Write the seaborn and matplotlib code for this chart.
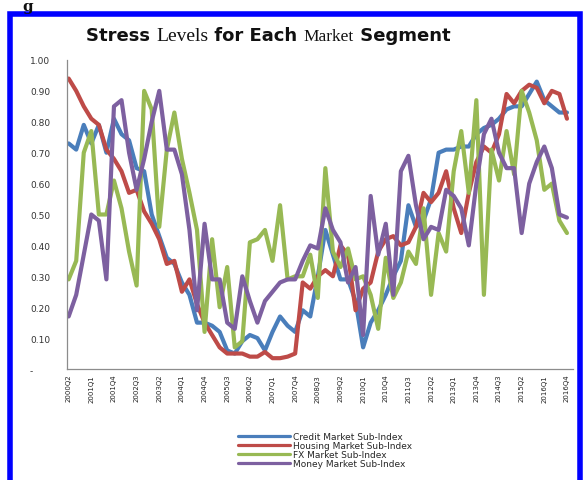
import numpy as np
import pandas as pd
import matplotlib
matplotlib.use("Agg")
import matplotlib.pyplot as plt
import seaborn as sns
from matplotlib.patches import Rectangle
from matplotlib.lines import Line2D

# Quarterly stress sub-indices, 2000Q2 .. 2016Q4
credit = [0.73, 0.71, 0.79, 0.73, 0.79, 0.70, 0.81, 0.76, 0.74, 0.65,
          0.64, 0.50, 0.43, 0.36, 0.34, 0.28, 0.24, 0.15, 0.15, 0.14,
          0.12, 0.06, 0.05, 0.09, 0.11, 0.10, 0.06, 0.12, 0.17, 0.14,
          0.12, 0.19, 0.17, 0.30, 0.45, 0.37, 0.29, 0.29, 0.22, 0.07,
          0.15, 0.19, 0.24, 0.30, 0.35, 0.53, 0.46, 0.48, 0.55, 0.70,
          0.71, 0.71, 0.72, 0.72, 0.76, 0.78, 0.79, 0.81, 0.84, 0.85,
          0.85, 0.89, 0.93, 0.87, 0.85, 0.83, 0.83]
housing = [0.94, 0.90, 0.85, 0.81, 0.79, 0.71, 0.68, 0.64, 0.57, 0.58,
           0.51, 0.47, 0.42, 0.34, 0.35, 0.25, 0.29, 0.21, 0.15, 0.11,
           0.07, 0.05, 0.05, 0.05, 0.04, 0.04, 0.055, 0.035, 0.035, 0.04,
           0.05, 0.28, 0.26, 0.30, 0.32, 0.30, 0.40, 0.37, 0.19, 0.26,
           0.28, 0.38, 0.42, 0.43, 0.40, 0.41, 0.46, 0.57, 0.54, 0.57,
           0.64, 0.52, 0.44, 0.57, 0.67, 0.72, 0.70, 0.76, 0.89, 0.86,
           0.90, 0.92, 0.91, 0.86, 0.90, 0.89, 0.81]
fx = [0.29, 0.35, 0.70, 0.77, 0.50, 0.50, 0.61, 0.52, 0.38, 0.27,
      0.90, 0.84, 0.46, 0.71, 0.83, 0.68, 0.57, 0.45, 0.12, 0.42,
      0.20, 0.33, 0.07, 0.09, 0.41, 0.42, 0.45, 0.35, 0.53, 0.29,
      0.30, 0.30, 0.37, 0.23, 0.65, 0.38, 0.33, 0.39, 0.29, 0.30,
      0.24, 0.13, 0.36, 0.23, 0.28, 0.38, 0.34, 0.52, 0.24, 0.44,
      0.38, 0.64, 0.77, 0.57, 0.87, 0.24, 0.71, 0.61, 0.77, 0.63,
      0.90, 0.83, 0.74, 0.58, 0.60, 0.48, 0.44]
money = [0.17, 0.24, 0.37, 0.50, 0.48, 0.29, 0.85, 0.87, 0.70, 0.58,
         0.68, 0.80, 0.90, 0.71, 0.71, 0.63, 0.45, 0.19, 0.47, 0.29,
         0.29, 0.15, 0.13, 0.30, 0.22, 0.15, 0.22, 0.25, 0.28, 0.29,
         0.29, 0.35, 0.40, 0.39, 0.52, 0.45, 0.41, 0.28, 0.33, 0.11,
         0.56, 0.37, 0.47, 0.24, 0.64, 0.69, 0.53, 0.42, 0.46, 0.45,
         0.58, 0.56, 0.52, 0.40, 0.60, 0.76, 0.81, 0.70, 0.65, 0.65,
         0.44, 0.60, 0.67, 0.72, 0.65, 0.50, 0.49]

tick_labels = ["2000Q2", "2001Q1", "2001Q4", "2002Q3", "2003Q2", "2004Q1",
               "2004Q4", "2005Q3", "2006Q2", "2007Q1", "2007Q4", "2008Q3",
               "2009Q2", "2010Q1", "2010Q4", "2011Q3", "2012Q2", "2013Q1",
               "2013Q4", "2014Q3", "2015Q2", "2016Q1", "2016Q4"]
y_ticks = [0.0, 0.1, 0.2, 0.3, 0.4, 0.5, 0.6, 0.7, 0.8, 0.9, 1.0]
y_tick_labels = ["-      ", "0.10", "0.20", "0.30", "0.40", "0.50",
                 "0.60", "0.70", "0.80", "0.90", "1.00"]

series_names = ["Credit Market Sub-Index", "Housing Market Sub-Index",
                "FX Market Sub-Index", "Money Market Sub-Index"]
colors = ["#4a7ebb", "#be4b48", "#98b954", "#7d60a0"]

# title pieces: (text, family, weight, size)
title_parts = [("Stress ", "DejaVu Sans", "bold", 13),
               ("Levels", "Liberation Serif", "normal", 14),
               (" for Each ", "DejaVu Sans", "bold", 13),
               ("Market", "Liberation Serif", "normal", 12.5),
               (" Segment", "DejaVu Sans", "bold", 13)]

sns.set_theme(style="white")
plt.rcParams["font.family"] = ["DejaVu Sans"]

n = len(credit)
wide = pd.DataFrame({
    "quarter": np.arange(n),
    series_names[0]: credit,
    series_names[1]: housing,
    series_names[2]: fx,
    series_names[3]: money,
})
long = wide.melt(id_vars="quarter", var_name="series", value_name="value")

W, H = 583, 481
fig = plt.figure(figsize=(W / 100, H / 100), dpi=100)
fig.patch.set_facecolor("white")

ax = fig.add_axes([67 / W, 1 - 370 / H, (573 - 67) / W, 309 / H])
sns.lineplot(data=long, x="quarter", y="value", hue="series",
             hue_order=series_names, palette=dict(zip(series_names, colors)),
             linewidth=3.0, legend=False, sort=False, ax=ax)
for ln in ax.lines:
    ln.set_solid_joinstyle("round")
    ln.set_solid_capstyle("round")

ax.set_xlim(-0.22, n - 1 + 0.8)
ax.set_ylim(0, 1.0)
ax.set_xlabel("")
ax.set_ylabel("")
ax.set_xticks(np.arange(0, n, 3))
ax.set_xticklabels(tick_labels, rotation=90, fontsize=5, color="#222222")
ax.set_yticks(y_ticks)
ax.set_yticklabels(y_tick_labels, fontsize=6.5, color="#333333")
ax.tick_params(axis="both", length=0)
ax.tick_params(axis="x", pad=3.5)
ax.tick_params(axis="y", pad=12)
for side in ("top", "right"):
    ax.spines[side].set_visible(False)
for side in ("left", "bottom"):
    ax.spines[side].set_color("#8c8c8c")
    ax.spines[side].set_linewidth(0.9)

# title assembled from pieces in mixed faces, centred on the panel
renderer = fig.canvas.get_renderer()
pieces = []
for txt, fam, wt, sz in title_parts:
    t = fig.text(0, 1 - 41 / H, txt, ha="left", va="baseline", family=fam,
                 fontweight=wt, fontsize=sz, color="#111111")
    pieces.append(t)
widths = [p.get_window_extent(renderer).width for p in pieces]
x0 = 268 - sum(widths) / 2
for p, w in zip(pieces, widths):
    p.set_x(x0 / W)
    x0 += w

handles = [Line2D([0], [0], color=c, lw=2.3) for c in colors]
fig.legend(handles, series_names, loc="upper left",
           bbox_to_anchor=(238 / W, 1 - 433 / H), frameon=False,
           fontsize=6.5, handlelength=5.8, handletextpad=0.3,
           labelspacing=0.0, borderpad=0, borderaxespad=0)

# blue frame around the panel
fig.patches.append(Rectangle((10 / W, -0.05), (580 - 10) / W,
                             (1 - 14.5 / H) + 0.05,
                             transform=fig.transFigure, fill=False,
                             edgecolor="#0000ff", linewidth=4.0,
                             clip_on=False))
fig.text(22 / W, 1.0, "g", ha="left", va="top", fontsize=11,
         fontweight="bold", family="DejaVu Serif", color="#111111")

fig.savefig("out.png", dpi=100, facecolor="white")
